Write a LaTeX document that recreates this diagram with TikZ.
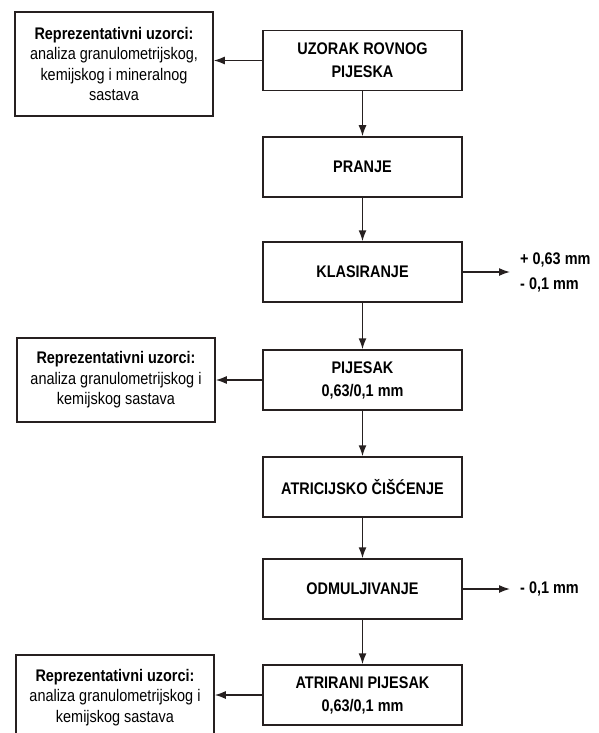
\documentclass[tikz,border=0pt]{standalone}
\usepackage{fontspec}
\setmainfont{Liberation Sans}[FakeStretch=0.86]
\definecolor{boxline}{RGB}{38,32,32}
\usetikzlibrary{arrows.meta,positioning}

\tikzset{
  procbox/.style={draw=boxline, line width=1.5pt, minimum width=199pt, minimum height=60pt,
    align=center, font=\fontsize{16.8}{23}\selectfont\bfseries},
  samplebox/.style={draw=boxline, line width=1.5pt, minimum width=198pt, align=center,
    font=\fontsize{16.8}{20.5}\selectfont},
  restlabel/.style={anchor=west, inner xsep=10pt, align=left,
    font=\fontsize{16.8}{25}\selectfont\bfseries},
  flow/.style={draw=boxline, line width=1.5pt, -{Latex[length=11pt,width=8pt]}}
}

\begin{document}
\begin{tikzpicture}[x=1pt,y=-1pt]
  \clip (0,0) rectangle (599,733);

  % main flow
  \node[procbox] (uzorak) at (362.5,60.5) {UZORAK ROVNOG\\PIJESKA};
  \node[procbox] (pranje) at (362.5,167) {PRANJE};
  \node[procbox] (klasir) at (362.5,272) {KLASIRANJE};
  \node[procbox] (pijesak) at (362.5,380) {PIJESAK\\0,63/0,1 mm};
  \node[procbox] (atric) at (362.5,487) {ATRICIJSKO ČIŠĆENJE};
  \node[procbox] (odmulj) at (362.5,589) {ODMULJIVANJE};
  \node[procbox] (atrir) at (362.5,695) {ATRIRANI PIJESAK\\0,63/0,1 mm};

  % samples on the left
  \node[samplebox, minimum height=104pt] (uzorci1) at (114,64)
    {\textbf{Reprezentativni uzorci:}\\analiza granulometrijskog,\\kemijskog i mineralnog\\sastava};
  \node[samplebox, minimum height=84pt] (uzorci2) at (116,380)
    {\textbf{Reprezentativni uzorci:}\\analiza granulometrijskog i\\kemijskog sastava};
  \node[samplebox, minimum height=85pt] (uzorci3) at (115,697.5)
    {\textbf{Reprezentativni uzorci:}\\analiza granulometrijskog i\\kemijskog sastava};

  % rejected fractions on the right
  \node[restlabel] (ostatak1) at (510,272) {+ 0,63 mm\\- 0,1 mm};
  \node[restlabel] (ostatak2) at (510,589) {- 0,1 mm};

  \draw[flow] (uzorak) -- (pranje);
  \draw[flow] (pranje) -- (klasir);
  \draw[flow] (klasir) -- (pijesak);
  \draw[flow] (pijesak) -- (atric);
  \draw[flow] (atric) -- (odmulj);
  \draw[flow] (odmulj) -- (atrir);

  \draw[flow] (uzorak.west) -- (uzorak.west -| uzorci1.east);
  \draw[flow] (pijesak.west) -- (pijesak.west -| uzorci2.east);
  \draw[flow] (atrir.west) -- (atrir.west -| uzorci3.east);

  \draw[flow] (klasir.east) -- (ostatak1.west);
  \draw[flow] (odmulj.east) -- (ostatak2.west);
\end{tikzpicture}
\end{document}
